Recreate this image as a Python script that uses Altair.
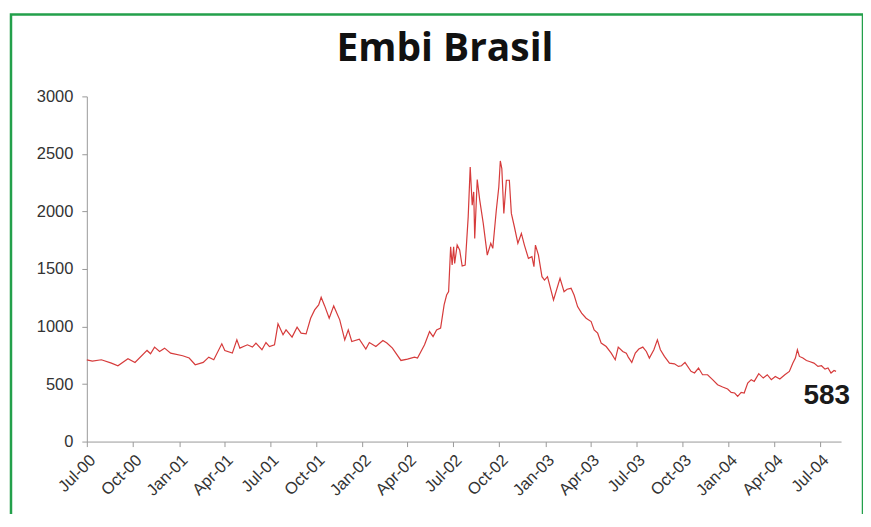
import altair as alt
import pandas as pd

dates = [
    "2000-07-01", "2000-07-12", "2000-07-30", "2000-08-19", "2000-09-01", "2000-09-21", "2000-10-05",
    "2000-10-29", "2000-11-05", "2000-11-13", "2000-11-23", "2000-12-03", "2000-12-15",
    "2001-01-08", "2001-01-21", "2001-02-02", "2001-02-18", "2001-03-01", "2001-03-11", "2001-03-27",
    "2001-04-02", "2001-04-17", "2001-04-26", "2001-05-02", "2001-05-17", "2001-05-27", "2001-06-03",
    "2001-06-15", "2001-06-23", "2001-06-30", "2001-07-10", "2001-07-17", "2001-07-27", "2001-08-02",
    "2001-08-14", "2001-08-24", "2001-09-01", "2001-09-11", "2001-09-20", "2001-09-28", "2001-10-06",
    "2001-10-11", "2001-10-18", "2001-10-27", "2001-11-05", "2001-11-17", "2001-11-27", "2001-12-04",
    "2001-12-11", "2001-12-26",
    "2002-01-08", "2002-01-15", "2002-01-28", "2002-02-11", "2002-02-19", "2002-03-02", "2002-03-19",
    "2002-04-01", "2002-04-15", "2002-04-21", "2002-05-05", "2002-05-15", "2002-05-22", "2002-05-29",
    "2002-06-06", "2002-06-13", "2002-06-18", "2002-06-22", "2002-06-26", "2002-06-29", "2002-07-02",
    "2002-07-04", "2002-07-09", "2002-07-14", "2002-07-19", "2002-07-25", "2002-07-31", "2002-08-04",
    "2002-08-08", "2002-08-11", "2002-08-13", "2002-08-18", "2002-08-23", "2002-08-30", "2002-09-07",
    "2002-09-14", "2002-09-18", "2002-09-25", "2002-09-30", "2002-10-03", "2002-10-06", "2002-10-10",
    "2002-10-15", "2002-10-21", "2002-10-25", "2002-10-31", "2002-11-07", "2002-11-14", "2002-11-20",
    "2002-11-28", "2002-12-05", "2002-12-09", "2002-12-12", "2002-12-18", "2002-12-25", "2002-12-30",
    "2003-01-05", "2003-01-17", "2003-01-30", "2003-02-07", "2003-02-13", "2003-02-21", "2003-02-27",
    "2003-03-06", "2003-03-14", "2003-03-23", "2003-04-02", "2003-04-08", "2003-04-15", "2003-04-22",
    "2003-05-02", "2003-05-12", "2003-05-20", "2003-05-26", "2003-06-04", "2003-06-11", "2003-06-15",
    "2003-06-22", "2003-06-29", "2003-07-06", "2003-07-14", "2003-07-21", "2003-07-27", "2003-08-05",
    "2003-08-12", "2003-08-18", "2003-08-26", "2003-09-05", "2003-09-15", "2003-09-23", "2003-09-29",
    "2003-10-06", "2003-10-18", "2003-10-25", "2003-11-02", "2003-11-10", "2003-11-20", "2003-11-30",
    "2003-12-10", "2003-12-20", "2003-12-30",
    "2004-01-06", "2004-01-13", "2004-01-19", "2004-01-26", "2004-02-01", "2004-02-08", "2004-02-15",
    "2004-02-21", "2004-03-01", "2004-03-10", "2004-03-18", "2004-03-26", "2004-04-03", "2004-04-12",
    "2004-04-22", "2004-05-01", "2004-05-08", "2004-05-13", "2004-05-17", "2004-05-21", "2004-05-28",
    "2004-06-04", "2004-06-10", "2004-06-19", "2004-06-27", "2004-07-04", "2004-07-11", "2004-07-17",
    "2004-07-23", "2004-07-29", "2004-08-02",
]

values = [
    710, 700, 711, 682, 659, 720, 688,
    792, 763, 821, 783, 812, 769,
    746, 726, 668, 688, 734, 711, 850,
    792, 769, 884, 812, 841, 821, 856,
    798, 861, 826, 841, 1023, 928, 971,
    908, 994, 942, 936, 1072, 1144, 1188,
    1254, 1179, 1072, 1179, 1058, 884, 971,
    870, 890,
    804, 861, 826, 878, 856, 812, 705,
    717, 734, 726, 841, 956, 913, 971,
    986, 1188, 1274, 1303, 1693, 1535, 1693,
    1549, 1708, 1665, 1526, 1535, 1953, 2387,
    2055, 2170, 1766, 2278, 2098, 1896, 1621,
    1723, 1679, 2011, 2213, 2439, 2373, 1983,
    2271, 2271, 1983, 1867, 1723, 1809, 1708,
    1592, 1607, 1520, 1708, 1621, 1433, 1404,
    1433, 1231, 1419, 1303, 1324, 1332, 1274,
    1173, 1116, 1072, 1043, 971, 942, 856,
    826, 769, 711, 821, 783, 769, 734,
    688, 769, 804, 821, 783, 726, 798,
    884, 798, 740, 682, 676, 653, 659,
    688, 610, 596, 639, 581, 581, 538,
    494, 474, 457,
    427, 422, 393, 427, 422, 509, 538,
    523, 590, 552, 581, 538, 566, 544,
    581, 610, 682, 726, 798, 740, 726,
    705, 696, 682, 653, 659, 630, 639,
    596, 618, 610,
]

last_label = ["583"]

tick_quarters = [(2000, 7), (2000, 10), (2001, 1), (2001, 4), (2001, 7), (2001, 10),
                 (2002, 1), (2002, 4), (2002, 7), (2002, 10), (2003, 1), (2003, 4),
                 (2003, 7), (2003, 10), (2004, 1), (2004, 4), (2004, 7)]
y_ticks = [0, 500, 1000, 1500, 2000, 2500, 3000]

df = pd.DataFrame({"date": dates, "value": values})
last_df = pd.DataFrame({"date": [dates[-1]], "value": [values[-1]], "label": last_label})

x_scale = alt.Scale(
    type="utc",
    domain=[alt.DateTime(year=2000, month=7, date=1, utc=True),
            alt.DateTime(year=2004, month=8, date=12, utc=True)],
)
x_axis = alt.Axis(
    values=[alt.DateTime(year=y, month=m, date=1, utc=True) for y, m in tick_quarters],
    labelExpr="utcFormat(datum.value, '%b-%y')", title=None, grid=False,
    labelAngle=315, labelAlign="right", labelBaseline="top",
    labelFont="Liberation Sans", labelFontSize=16.5, labelColor="#333333", labelPadding=5,
    domainColor="#999999", tickColor="#999999", tickSize=5, labelOverlap=False,
)
y_axis = alt.Axis(
    values=y_ticks, format="d", title=None, grid=False,
    labelFont="Liberation Sans", labelFontSize=16.5, labelColor="#333333", labelPadding=9,
    domainColor="#999999", tickColor="#999999", tickSize=5,
)
y_scale = alt.Scale(domain=[0, 3000], nice=False)

base = alt.Chart(df)

line = base.mark_line(color="#d63b3b", strokeWidth=1.2).encode(
    x=alt.X("date:T", scale=x_scale, axis=x_axis),
    y=alt.Y("value:Q", scale=y_scale, axis=y_axis),
)

label = alt.Chart(last_df).mark_text(
    align="right", baseline="alphabetic", dx=14, dy=33,
    font="Liberation Sans", fontSize=28, fontWeight="bold", color="#1a1a1a",
).encode(
    x=alt.X("date:T", scale=x_scale),
    y=alt.Y("value:Q", scale=y_scale),
    text="label:N",
)

frame = alt.Chart(alt.Data(values=[{}])).mark_rect(
    filled=False, stroke="#23a04b", strokeWidth=2.5
).encode(
    x=alt.value(-76), x2=alt.value(778), y=alt.value(-82), y2=alt.value(470)
)

chart = alt.layer(frame, line, label).properties(
    width=756,
    height=346,
    title=alt.TitleParams(
        "Embi Brasil", font="Open Sans", fontSize=39, fontWeight="bold",
        color="#111111", anchor="middle", dx=-19, offset=-56,
    ),
    autosize=alt.AutoSizeParams(type="none"),
    padding={"left": 79, "top": 88, "right": 22, "bottom": 72},
    background="white",
).configure_view(stroke=None)

chart.save("out.html", embed_options={"renderer": "svg", "actions": False})
